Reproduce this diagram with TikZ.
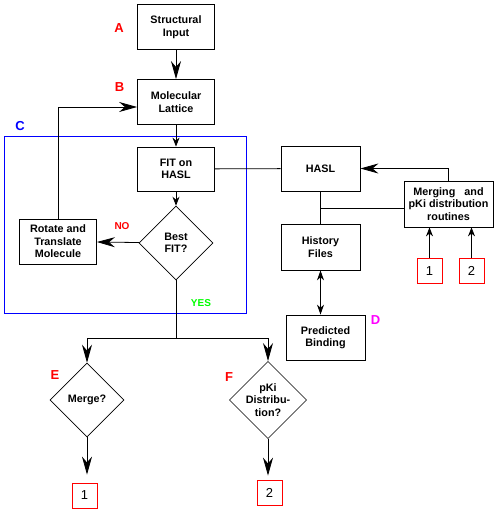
\documentclass[tikz,border=0pt]{standalone}
\usepackage{fontspec}
\setmainfont{Liberation Sans}
\usetikzlibrary{arrows.meta,shapes.geometric}
\definecolor{tagmag}{RGB}{255,0,255}
\tikzset{%
    box/.style={rectangle,draw,line width=0.8pt,minimum width=78pt,minimum height=45pt,inner sep=1pt,align=center,font=\fontsize{10.8}{12.5}\selectfont\bfseries},
    dia/.style={diamond,draw,line width=0.6pt,minimum size=74pt,inner sep=0pt,align=center,font=\fontsize{10.8}{12.5}\selectfont\bfseries},
    num/.style={rectangle,draw=red,line width=0.8pt,minimum size=25pt,inner sep=0pt,font=\fontsize{13}{13}\selectfont},
    tag/.style={font=\fontsize{13}{13}\selectfont\bfseries},
    yn/.style={font=\fontsize{10}{10}\selectfont\bfseries},
    lin/.style={line width=0.8pt},
    arr/.style={line width=0.8pt,-{Stealth[length=18pt,width=10pt]}},
    sar/.style={line width=0.8pt,-{Stealth[length=9pt,width=7pt]}},
    dar/.style={line width=0.8pt,{Stealth[length=10pt,width=7pt]}-{Stealth[length=10pt,width=7pt]}}
}
\begin{document}
\begin{tikzpicture}[x=1pt,y=-1pt]
    \useasboundingbox (0,0) rectangle (498,513);
    % left column
    \node[box,minimum width=77pt] (inp) at (176,27) {Structural\\Input};
    \node[box,minimum width=77pt] (lat) at (176,102) {Molecular\\Lattice};
    \node[box,minimum width=77pt,minimum height=44pt] (fit) at (176,169) {FIT on\\HASL};
    \node[dia] (best) at (176,243) {Best\\FIT?};
    \node[box,minimum width=77pt] (rot) at (58,241.5) {Rotate and\\Translate\\Molecule};
    \draw[blue,line width=0.8pt] (4,136) rectangle (246,313);
    \node[tag,red] (la) at (119,28) {A};
    \node[tag,red] (lb) at (119.5,87) {B};
    \node[tag,blue] (lc) at (20,126) {C};
    \node[yn,red] (lno) at (122,226) {NO};
    \node[yn,green] (lyes) at (201,303) {YES};
    % right column
    \node[box,minimum width=79pt] (hasl) at (320.5,168.5) {HASL};
    \node[box,minimum width=79pt,minimum height=46pt] (hist) at (320.5,247) {History\\Files};
    \node[box,minimum width=79pt] (pred) at (325.5,337.5) {Predicted\\Binding};
    \node[box,minimum width=89pt,minimum height=46pt] (mrg) at (448.5,204) {Merging~~ and\\pKi distribution\\routines};
    \node[num] (r1) at (429.5,271) {1};
    \node[num] (r2) at (471.5,271) {2};
    \node[tag,tagmag] (ld) at (375.5,320) {D};
    % bottom
    \node[dia] (merge) at (87,400) {Merge?};
    \node[dia] (pki) at (268,400) {pKi\\Distribu-\\tion?};
    \node[num] (m1) at (84.5,495.5) {1};
    \node[num] (m2) at (269.5,492.5) {2};
    \node[tag,red] (le) at (55,375) {E};
    \node[tag,red] (lf) at (229,377) {F};
    \coordinate (split) at (176,338);
    \coordinate (tap) at (320.5,208);
    % connectors
    \draw[arr] (inp) -- (lat);
    \draw[sar] (lat) -- (fit);
    \draw[sar] (fit) -- (best);
    \draw[arr] (best) -- (rot);
    \draw[arr] (rot.north) |- ([yshift=-5pt]lat.west);
    \draw[lin] (fit) -- (hasl);
    \draw[arr] (mrg.north) |- (hasl.east);
    \draw[lin] (hasl) -- (hist);
    \draw[lin] (tap) -- (tap -| mrg.west);
    \draw[dar] (hist.south) -- (hist.south |- pred.north);
    \draw[sar] (r1) -- (r1 |- mrg.south);
    \draw[sar] (r2) -- (r2 |- mrg.south);
    \draw[lin] (best) -- (split);
    \draw[arr] (split) -| (merge);
    \draw[arr] (split) -| (pki);
    \draw[arr,shorten >=8pt] (merge.south) -- (merge.south |- m1.north);
    \draw[arr,shorten >=4pt] (pki.south) -- (pki.south |- m2.north);
\end{tikzpicture}
\end{document}
